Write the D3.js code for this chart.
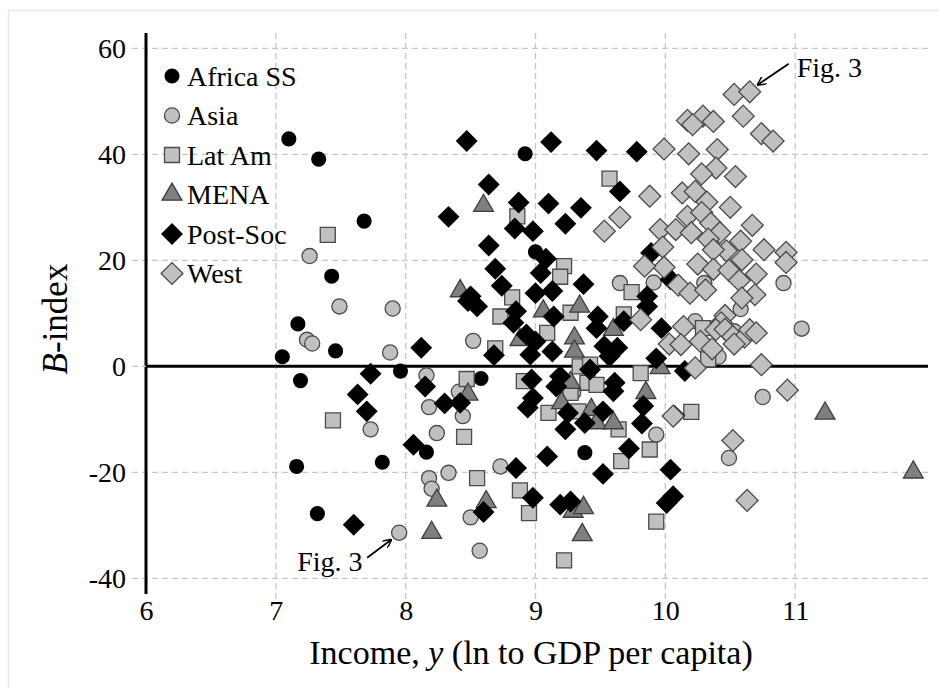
<!DOCTYPE html>
<html>
<head>
<meta charset="utf-8">
<script src="https://cdn.jsdelivr.net/npm/d3@7/dist/d3.min.js"></script>
<style>
  html, body { margin: 0; padding: 0; background: #fff; }
  svg text { font-family: "Liberation Serif", "Times New Roman", serif; fill: #000; }
</style>
</head>
<body>
<svg id="chart" width="939" height="688"></svg>
<script>
// Region groups (legend order)
const regions = ["Africa SS", "Asia", "Lat Am", "MENA", "Post-Soc", "West"];

// Country observations per region: [income (ln GDP per capita), B-index]
const africaSS = [
  [7.10, 42.9], [7.33, 39.1], [7.68, 27.4], [7.43, 17.0], [7.17, 8.0], [7.05, 1.8],
  [7.46, 2.9], [7.19, -2.7], [7.96, -0.9], [7.82, -18.1], [7.16, -18.9], [7.32, -27.8],
  [8.58, -2.3], [8.16, -16.2], [8.92, 40.1], [9.00, 21.6], [9.38, -16.3]
];
const asia = [
  [7.26, 20.8], [7.49, 11.3], [7.90, 10.9], [7.24, 5.0], [7.28, 4.3], [7.88, 2.6],
  [8.52, 4.8], [8.16, -1.7], [8.18, -7.7], [8.44, -9.4], [8.41, -4.8], [7.73, -11.9],
  [8.24, -12.6], [8.33, -20.1], [8.18, -21.1], [8.20, -23.1], [8.50, -28.5], [8.57, -34.8],
  [7.95, -31.4], [8.73, -18.9], [9.65, 15.7], [9.91, 15.8], [9.93, -12.9], [9.29, -5.0],
  [10.91, 15.7], [11.05, 7.1], [10.75, -5.8], [10.49, -17.3], [10.58, 10.8], [10.41, 1.8],
  [10.23, 8.5], [10.53, 6.6], [10.30, 15.7]
];
const latAm = [
  [7.40, 24.8], [7.44, -10.2], [8.47, -2.4], [8.45, -13.3], [8.55, -21.1], [8.73, 9.4],
  [8.69, 3.4], [9.57, 35.4], [8.86, 28.3], [9.22, 18.9], [9.19, 16.9], [9.74, 14.0],
  [8.82, 13.0], [9.27, 10.1], [9.09, 6.3], [9.68, 9.8], [9.34, 0.0], [9.42, 0.3],
  [8.91, -2.8], [9.40, -3.1], [9.47, -3.5], [9.27, -5.0], [9.10, -8.8], [9.33, -8.5],
  [9.64, -11.9], [9.81, -1.3], [9.88, -15.7], [9.66, -17.9], [8.88, -23.4], [8.95, -27.7],
  [9.93, -29.3], [9.22, -36.6], [10.29, 7.2], [10.20, -8.6], [10.33, 1.3]
];
const mena = [
  [8.60, 30.3], [8.42, 14.2], [8.24, -25.3], [8.20, -31.4], [8.62, -25.6], [8.48, -5.3],
  [9.06, 10.4], [9.34, 11.3], [8.88, 5.0], [9.30, 5.3], [9.30, 2.8], [9.27, -3.1],
  [9.20, -6.9], [9.43, -8.2], [9.47, -10.7], [9.60, -10.7], [9.60, 6.9], [9.85, -5.0],
  [9.96, -0.3], [9.29, -27.4], [9.37, -26.7], [9.36, -31.8], [11.23, -8.9], [11.91, -20.0]
];
const postSoc = [
  [8.47, 42.5], [8.64, 34.3], [8.33, 28.2], [8.64, 22.8], [8.69, 18.4], [8.50, 13.2],
  [8.12, 3.5], [8.68, 2.1], [8.55, 11.3], [8.48, 12.3], [7.73, -1.4], [7.63, -5.3],
  [7.70, -8.5], [8.15, -3.8], [8.30, -7.0], [8.42, -6.9], [8.06, -14.8], [7.60, -29.9],
  [8.60, -27.5], [9.12, 42.3], [9.47, 40.7], [9.78, 40.5], [8.87, 30.9], [9.10, 30.7],
  [9.35, 29.9], [9.65, 33.0], [9.23, 26.9], [8.84, 26.0], [8.98, 25.5], [9.08, 20.3],
  [9.04, 17.6], [8.74, 15.2], [9.37, 15.5], [9.00, 13.8], [9.13, 14.2], [9.89, 21.4],
  [10.04, 16.4], [9.86, 13.2], [8.85, 10.4], [8.83, 8.2], [9.14, 9.4], [9.48, 9.4],
  [9.47, 7.2], [9.68, 8.5], [9.86, 11.3], [9.97, 7.2], [8.93, 6.0], [9.00, 4.7],
  [9.13, 2.8], [8.96, 2.2], [9.53, 3.8], [9.63, 3.5], [9.57, 1.9], [9.93, 1.5],
  [9.42, -0.6], [9.19, -1.9], [9.16, -3.8], [8.97, -2.5], [9.61, -3.1], [9.60, -4.7],
  [8.98, -6.0], [8.94, -7.8], [9.25, -8.8], [9.23, -11.9], [9.52, -8.5], [9.38, -10.7],
  [9.83, -7.5], [9.82, -10.8], [9.09, -17.0], [9.72, -15.5], [9.52, -20.3], [10.04, -19.5],
  [8.85, -19.2], [8.98, -24.8], [9.19, -26.1], [9.27, -25.5], [10.01, -25.8], [10.06, -24.5],
  [10.15, -0.9], [10.07, -9.3]
];
const west = [
  [10.53, 51.3], [10.65, 51.8], [10.60, 47.2], [10.29, 47.2], [10.17, 46.4], [10.21, 45.6],
  [10.37, 46.2], [10.74, 43.9], [10.83, 42.5], [9.99, 41.0], [10.18, 40.1], [10.40, 40.9],
  [10.39, 37.4], [10.28, 36.3], [10.54, 35.8], [9.88, 32.1], [10.13, 32.7], [10.23, 33.0],
  [10.32, 31.0], [10.50, 30.0], [10.17, 28.3], [10.28, 29.0], [10.35, 27.0], [10.67, 26.6],
  [9.96, 25.8], [10.08, 25.8], [10.20, 25.2], [10.42, 25.2], [10.33, 24.0], [10.47, 21.8],
  [10.58, 23.6], [10.37, 22.0], [9.98, 22.5], [10.76, 22.0], [10.93, 21.5], [10.93, 19.6],
  [10.25, 19.3], [10.59, 20.1], [10.37, 18.3], [10.49, 18.1], [10.70, 17.4], [9.99, 18.7],
  [9.84, 18.9], [10.57, 16.2], [10.10, 15.3], [10.19, 13.8], [10.31, 14.4], [10.69, 13.5],
  [10.59, 12.9], [10.46, 9.6], [10.43, 8.2], [10.14, 7.5], [10.39, 6.9], [10.46, 7.0],
  [10.52, 5.6], [10.61, 5.5], [10.65, 6.9], [10.70, 6.3], [10.27, 4.7], [10.03, 4.2],
  [10.12, 4.1], [10.36, 3.3], [10.53, 4.2], [10.23, -0.3], [10.74, 0.3], [10.94, -4.5],
  [10.06, -9.4], [10.52, -14.0], [10.63, -25.3], [9.81, 8.8], [9.65, 28.1], [9.53, 25.5]
];

// Axis ticks
const xTicks = [6, 7, 8, 9, 10, 11];
const yTicks = [-40, -20, 0, 20, 40, 60];

// Callouts to the two countries discussed in Fig. 3
const callouts = [
  { label: "Fig. 3", point: [10.65, 51.8] },
  { label: "Fig. 3", point: [7.95, -31.4] }
];

const series = [africaSS, asia, latAm, mena, postSoc, west];
const styles = {
  "Africa SS": { shape: "circle",   fill: "#000000", stroke: "none" },
  "Asia":      { shape: "circle",   fill: "#c0c0c0", stroke: "#4a4a4a" },
  "Lat Am":    { shape: "square",   fill: "#c0c0c0", stroke: "#4a4a4a" },
  "MENA":      { shape: "triangle", fill: "#7f7f7f", stroke: "#3e3e3e" },
  "Post-Soc":  { shape: "diamond",  fill: "#000000", stroke: "none" },
  "West":      { shape: "diamond",  fill: "#c0c0c0", stroke: "#4a4a4a" }
};

const svg = d3.select("#chart");

const x = d3.scaleLinear().domain([6, 12]).range([146, 925]);
const y = d3.scaleLinear().domain([-40, 60]).range([578.3, 48.3]);

// Faint outer frame
svg.append("rect")
  .attr("x", 8.5).attr("y", 10.5).attr("width", 1000).attr("height", 1000)
  .attr("fill", "none").attr("stroke", "#e2eaea").attr("stroke-width", 1.5);

// Dashed grid
const grid = svg.append("g").attr("stroke", "#c6c6c6").attr("stroke-width", 1.3)
  .attr("stroke-dasharray", "6,4");
grid.selectAll("line.gx").data(xTicks.filter(d => d !== 6)).join("line")
  .attr("x1", d => x(d)).attr("x2", d => x(d))
  .attr("y1", 33).attr("y2", 603);
grid.selectAll("line.gy").data(yTicks.filter(d => d !== 0)).join("line")
  .attr("x1", 132).attr("x2", 928)
  .attr("y1", d => y(d)).attr("y2", d => y(d));

// Zero line and vertical axis
svg.append("line").attr("x1", 146).attr("x2", 928).attr("y1", y(0)).attr("y2", y(0))
  .attr("stroke", "#000").attr("stroke-width", 3);
svg.append("line").attr("x1", x(6)).attr("x2", x(6)).attr("y1", 33).attr("y2", 594)
  .attr("stroke", "#000").attr("stroke-width", 3);
svg.append("line").attr("x1", 132).attr("x2", 146).attr("y1", y(0)).attr("y2", y(0))
  .attr("stroke", "#c6c6c6").attr("stroke-width", 1.3).attr("stroke-dasharray", "6,4");

// Tick labels via d3 axes (domain and tick lines hidden); plain hyphen for negatives
const yAxis = svg.append("g").attr("transform", "translate(126,0)")
  .call(d3.axisLeft(y).tickValues(yTicks).tickSize(0).tickPadding(0).tickFormat(d => String(d)));
yAxis.select(".domain").remove();
yAxis.selectAll("text").attr("font-size", 28).attr("font-family", "Liberation Serif")
  .attr("dy", "0.34em").attr("fill", "#000");

const xAxis = svg.append("g").attr("transform", "translate(0,598)")
  .call(d3.axisBottom(x).tickValues(xTicks).tickSize(0).tickPadding(0).tickFormat(d => String(d)));
xAxis.select(".domain").remove();
xAxis.selectAll("text").attr("font-size", 28).attr("font-family", "Liberation Serif")
  .attr("dy", "0.8em").attr("fill", "#000");

// Axis titles
const xt = svg.append("text").attr("x", 531).attr("y", 664).attr("text-anchor", "middle")
  .attr("font-size", 34);
xt.append("tspan").text("Income, ");
xt.append("tspan").attr("font-style", "italic").text("y");
xt.append("tspan").text(" (ln to GDP per capita)");

const yt = svg.append("text").attr("transform", "translate(67,319) rotate(-90)")
  .attr("text-anchor", "middle").attr("font-size", 35);
yt.append("tspan").attr("font-style", "italic").text("B");
yt.append("tspan").text("-index");

// Marker generators
const symbolSize = { circle: 180, square: 225, triangle: 170, diamond: 240 };
function markerPath(shape) {
  if (shape === "circle") return d3.symbol(d3.symbolCircle, symbolSize.circle)();
  if (shape === "square") return d3.symbol(d3.symbolSquare, symbolSize.square)();
  if (shape === "triangle") return d3.symbol(d3.symbolTriangle, symbolSize.triangle)();
  return d3.symbol(d3.symbolSquare, symbolSize.diamond)();
}
function drawMarker(sel, st) {
  sel.attr("d", markerPath(st.shape))
    .attr("fill", st.fill)
    .attr("stroke", st.stroke)
    .attr("stroke-width", st.stroke === "none" ? 0 : 1.3);
}
function markerTransform(st, px, py) {
  return st.shape === "diamond" ? `translate(${px},${py}) rotate(45)` : `translate(${px},${py})`;
}

// Points, one layer per region
const pts = svg.append("g");
regions.forEach((name, i) => {
  const st = styles[name];
  pts.append("g").attr("class", "region")
    .selectAll("path").data(series[i]).join("path")
    .call(drawMarker, st)
    .attr("transform", d => markerTransform(st, x(d[0]), y(d[1])));
});

// Legend
const legend = svg.append("g");
regions.forEach((name, i) => {
  const st = styles[name];
  const ly = 76 + i * 39.5;
  legend.append("path").call(drawMarker, st).attr("transform", markerTransform(st, 172, ly));
  legend.append("text").attr("x", 187).attr("y", ly).attr("dy", "0.34em")
    .attr("font-size", 28).text(name);
});

// Callout arrows
const defs = svg.append("defs");
defs.append("marker").attr("id", "arrow").attr("viewBox", "0 0 10 10")
  .attr("refX", 9).attr("refY", 5).attr("markerWidth", 9).attr("markerHeight", 9)
  .attr("markerUnits", "userSpaceOnUse").attr("orient", "auto")
  .append("path").attr("d", "M0,0 L10,5 L0,10").attr("fill", "none")
  .attr("stroke", "#000").attr("stroke-width", 1.6);

const c1 = callouts[0], c2 = callouts[1];
const p1 = [x(c1.point[0]), y(c1.point[1])];
svg.append("line").attr("x1", p1[0] + 39).attr("y1", p1[1] - 28)
  .attr("x2", p1[0] + 8).attr("y2", p1[1] - 7)
  .attr("stroke", "#000").attr("stroke-width", 1.8).attr("marker-end", "url(#arrow)");
svg.append("text").attr("x", p1[0] + 47).attr("y", p1[1] - 15).attr("font-size", 28).text(c1.label);

const p2 = [x(c2.point[0]), y(c2.point[1])];
svg.append("line").attr("x1", p2[0] - 32).attr("y1", p2[1] + 25)
  .attr("x2", p2[0] - 8).attr("y2", p2[1] + 7)
  .attr("stroke", "#000").attr("stroke-width", 1.8).attr("marker-end", "url(#arrow)");
svg.append("text").attr("x", p2[0] - 102).attr("y", p2[1] + 38).attr("font-size", 28).text(c2.label);
</script>
</body>
</html>
